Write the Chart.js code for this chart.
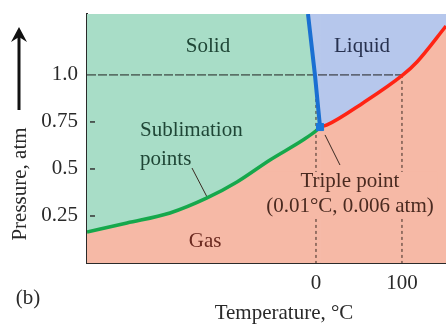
<!DOCTYPE html>
<html>
<head>
<meta charset="utf-8">
<script src="https://cdn.jsdelivr.net/npm/chart.js@4"></script>
<style>
  body { margin: 0; background: #fff; }
  #wrap { width: 446px; height: 326px; }
</style>
</head>
<body>
<div id="wrap"><canvas id="phase" width="446" height="326"></canvas></div>
<script>
// axis ranges (deg C, atm)
const tMin = -266.3, tMax = 151.2;
const pMin = 0, pMax = 1.324;
const xTicks = [0, 100];
const yTicks = [0.25, 0.5, 0.75, 1.0];
const yTickLabels = ['0.25', '0.5', '0.75', '1.0'];

// sublimation curve (solid / gas)
const subT = [-266.3, -219.8, -169.8, -126.7, -91.9, -53.5, -15.1, 1.2, 4.7];
const subP = [0.165, 0.213, 0.266, 0.346, 0.431, 0.548, 0.654, 0.707, 0.723];
// melting line (solid / liquid)
const fusT = [-9.3, -1.2, 4.7];
const fusP = [1.324, 1.0, 0.723];
// vaporization curve (liquid / gas)
const vapT = [4.7, 12.8, 54.7, 101, 117.4, 151.2];
const vapP = [0.723, 0.734, 0.851, 1.0, 1.069, 1.26];
// triple point
const tripleT = [4.7];
const tripleP = [0.723];

const pts = (xs, ys) => xs.map((x, i) => ({ x: x, y: ys[i] }));

const serif = "'Liberation Serif', 'Times New Roman', serif";

// region labels in data coordinates
const regionLabels = [
  { text: 'Solid', t: -125.6, p: 1.149, color: '#1f4636', align: 'center' },
  { text: 'Liquid', t: 53.5, p: 1.149, color: '#27314f', align: 'center' },
  { text: 'Sublimation', t: -204.7, p: 0.702, color: '#1f4636', align: 'left' },
  { text: 'points', t: -204.7, p: 0.548, color: '#1f4636', align: 'left' },
  { text: 'Gas', t: -129, p: 0.112, color: '#6b2a20', align: 'center' }
];
const tripleLabel = ['Triple point', '(0.01°C, 0.006 atm)'];

const labelsPlugin = {
  id: 'phaseLabels',
  afterDatasetsDraw(chart) {
    const ctx = chart.ctx;
    const xs = chart.scales.x, ys = chart.scales.y;
    ctx.save();
    ctx.font = '21px ' + serif;
    ctx.textBaseline = 'middle';
    regionLabels.forEach(l => {
      ctx.fillStyle = l.color;
      ctx.textAlign = l.align;
      ctx.fillText(l.text, xs.getPixelForValue(l.t), ys.getPixelForValue(l.p));
    });

    // triple point label on a box of the gas colour, over the dashed lines
    const cx = xs.getPixelForValue(39.5);
    const y1 = ys.getPixelForValue(0.431), y2 = ys.getPixelForValue(0.298);
    ctx.fillStyle = '#f6b9a6';
    ctx.fillRect(cx - 88, y1 - 10, 176, y2 - y1 + 22);
    ctx.fillStyle = '#4a2a20';
    ctx.textAlign = 'center';
    ctx.fillText(tripleLabel[0], cx, y1);
    ctx.fillText(tripleLabel[1], cx, y2);

    // small inside tick marks on the pressure axis
    ctx.strokeStyle = '#333';
    ctx.lineWidth = 1.5;
    yTicks.slice(0, 3).forEach(v => {
      const y = ys.getPixelForValue(v);
      ctx.beginPath();
      ctx.moveTo(chart.chartArea.left + 3, y);
      ctx.lineTo(chart.chartArea.left + 8, y);
      ctx.stroke();
    });

    // axis titles
    ctx.fillStyle = '#2a2a2a';
    ctx.font = '21px ' + serif;
    ctx.textAlign = 'center';
    ctx.fillText('Temperature, °C', 284, 313);
    ctx.fillText('(b)', 28, 298);
    ctx.translate(20, 184);
    ctx.rotate(-Math.PI / 2);
    ctx.fillText('Pressure, atm', 0, 0);
    ctx.restore();

    // arrow
    ctx.save();
    ctx.strokeStyle = '#111';
    ctx.fillStyle = '#111';
    ctx.lineWidth = 3;
    ctx.beginPath();
    ctx.moveTo(19, 110);
    ctx.lineTo(19, 36);
    ctx.stroke();
    ctx.beginPath();
    ctx.moveTo(19, 27);
    ctx.lineTo(11, 42);
    ctx.lineTo(19, 37);
    ctx.lineTo(27, 42);
    ctx.closePath();
    ctx.fill();
    ctx.restore();
  }
};

const thin = { showLine: true, pointRadius: 0, fill: false, borderWidth: 1, borderColor: '#3a2a22' };
const area = { showLine: true, pointRadius: 0, borderWidth: 0, borderColor: 'transparent' };
const smooth = { cubicInterpolationMode: 'monotone' };

new Chart(document.getElementById('phase'), {
  type: 'scatter',
  data: {
    datasets: [
      // gas region (below both curves)
      { ...area, ...smooth, data: pts(subT, subP), fill: 'start', backgroundColor: '#f6b9a6', order: 10 },
      { ...area, ...smooth, data: pts(vapT, vapP), fill: 'start', backgroundColor: '#f6b9a6', order: 10 },
      // solid region
      { ...area, ...smooth, data: pts(subT, subP), fill: 'end', backgroundColor: '#a8ddc7', order: 9 },
      // liquid region: right of the melting line and above vaporization curve
      { ...area, data: pts(fusT, fusP), fill: 'end', backgroundColor: '#b6c7ec', order: 8 },
      { ...area, ...smooth, data: pts(vapT, vapP), fill: 'end', backgroundColor: '#b6c7ec', order: 8 },
      // guide lines
      { ...thin, data: pts([tMin, 100], [1.0, 1.0]), borderColor: '#222', borderDash: [9, 2], order: 6 },
      { ...thin, data: pts([0, 0], [1.0, 0]), borderDash: [3, 3], order: 6 },
      { ...thin, data: pts([100, 100], [1.0, 0]), borderDash: [3, 3], order: 6 },
      { ...thin, data: pts([-144.2, -126.7], [0.505, 0.351]), order: 6 },
      { ...thin, data: pts([10.5, 27.9], [0.681, 0.521]), order: 6 },
      // phase boundaries
      { showLine: true, pointRadius: 0, fill: false, ...smooth, data: pts(subT, subP), borderColor: '#16a84c', borderWidth: 3.5, order: 3 },
      { showLine: true, pointRadius: 0, fill: false, ...smooth, data: pts(vapT, vapP), borderColor: '#ff2414', borderWidth: 3.5, order: 3 },
      { showLine: true, pointRadius: 0, fill: false, data: pts(fusT, fusP), borderColor: '#1a6fd2', borderWidth: 4, order: 2 },
      { data: pts(tripleT, tripleP), pointStyle: 'rect', pointRadius: 5, backgroundColor: '#1a78d8', borderColor: '#1a78d8', order: 1 }
    ]
  },
  options: {
    responsive: false,
    animation: false,
    layout: { autoPadding: false, padding: { top: 14, right: 0, left: 0, bottom: 0 } },
    plugins: { legend: { display: false }, tooltip: { enabled: false } },
    scales: {
      x: {
        type: 'linear', min: tMin, max: tMax,
        afterBuildTicks: s => { s.ticks = xTicks.map(v => ({ value: v })); },
        afterFit: s => { s.height = 63; s.paddingLeft = 0; s.paddingRight = 0; },
        grid: { drawOnChartArea: false, drawTicks: false },
        border: { display: true, color: '#2a2a2a', width: 2 },
        ticks: { padding: 8, color: '#2a2a2a', font: { family: serif, size: 21 } }
      },
      y: {
        type: 'linear', min: pMin, max: pMax,
        afterBuildTicks: s => { s.ticks = yTicks.map(v => ({ value: v })); },
        afterFit: s => { s.width = 87; s.paddingTop = 0; s.paddingBottom = 0; },
        grid: { drawOnChartArea: false, drawTicks: false },
        border: { display: true, color: '#2a2a2a', width: 2 },
        ticks: {
          padding: 9, color: '#2a2a2a', font: { family: serif, size: 21 },
          callback: v => yTickLabels[yTicks.indexOf(v)]
        }
      }
    }
  },
  plugins: [labelsPlugin]
});
</script>
</body>
</html>
